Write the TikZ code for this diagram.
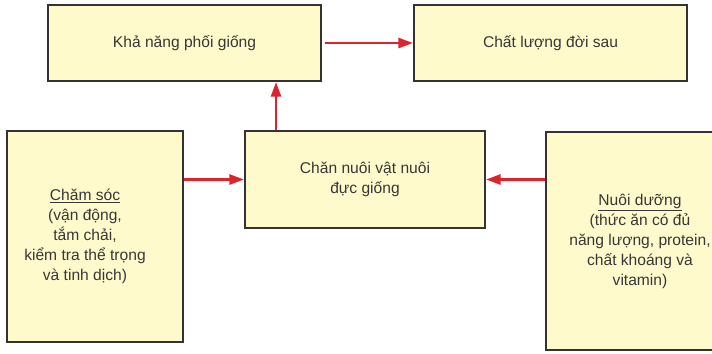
\documentclass[tikz,border=0pt]{standalone}
\usepackage{fontspec}
\setmainfont{Liberation Sans}
\usetikzlibrary{arrows.meta,positioning}
\definecolor{boxfill}{RGB}{255,250,204}
\definecolor{arrowred}{RGB}{218,37,45}
\definecolor{textgray}{RGB}{55,55,55}

\begin{document}
\begin{tikzpicture}[x=0.75pt,y=-0.75pt,block/.style={rectangle,draw=black!80,line width=1.5pt,fill=boxfill,inner sep=0pt,text=textgray,align=center},link/.style={draw=arrowred,line width=2pt,-{Triangle[length=11pt,width=7.5pt]}},every node/.style={font=\fontsize{11.7}{15}\selectfont}]
\useasboundingbox (0,0) rectangle (712,353);
\clip (0,0) rectangle (712,353);
\node[block,minimum width=204.75pt,minimum height=57pt] (kn) at (184.5,43) {Khả năng phối giống};
\node[block,minimum width=204.75pt,minimum height=57pt] (cl) at (550.5,43) {Chất lượng đời sau};
\node[block,minimum width=180pt,minimum height=72.75pt] (mid) at (365,179.5) {Chăn nuôi vật nuôi\\đực giống};
\node[block,minimum width=132pt,minimum height=158.25pt] (cs) at (95,236.5) {};
\node[text=textgray,align=center] (cstext) at (85,236) {\underline{Chăm sóc}\\(vận động,\\tắm chải,\\kiểm tra thể trọng\\và tinh dịch)};
\node[block,minimum width=141pt,minimum height=163.5pt] (nd) at (640,241) {\underline{Nuôi dưỡng}\\(thức ăn có đủ\\năng lượng, protein,\\chất khoáng và\\vitamin)};
\coordinate (rise) at ([xshift=-66.75pt]mid.north);
\draw[link,shorten <=2pt] (kn) -- (cl);
\draw[link] (cs.east |- mid.west) -- (mid.west);
\draw[link] (nd.west |- mid.east) -- (mid.east);
\draw[link] (rise) -- (rise |- kn.south);
\end{tikzpicture}
\end{document}
